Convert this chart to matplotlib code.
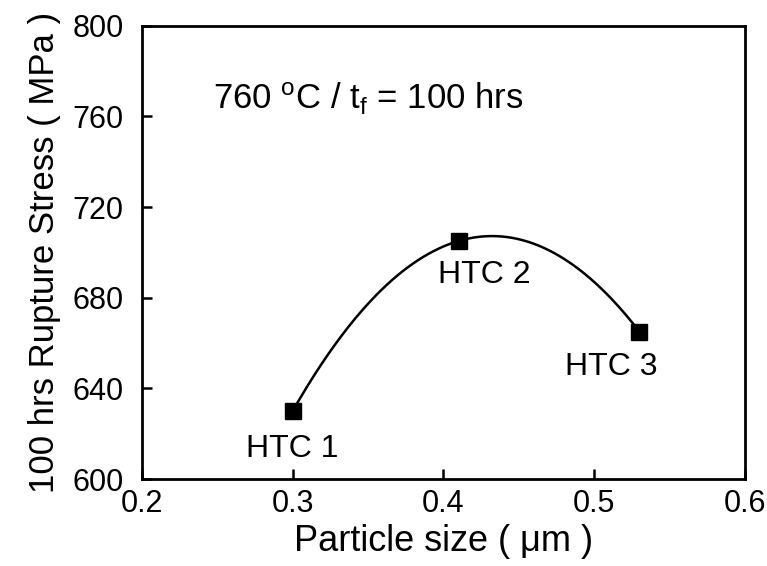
import numpy as np
import matplotlib
matplotlib.use("Agg")
import matplotlib.pyplot as plt

plt.rcParams['font.family'] = ['Liberation Sans', 'DejaVu Sans']
plt.rcParams['mathtext.fontset'] = 'custom'
plt.rcParams['mathtext.rm'] = 'Liberation Sans'
plt.rcParams['mathtext.it'] = 'Liberation Sans'

particle_size = [0.30, 0.41, 0.53]
rupture_stress = [630, 705, 665]
labels = ['HTC 1', 'HTC 2', 'HTC 3']
label_x = [0.30, 0.427, 0.511]
label_y = [609.5, 686.5, 646]
xticks = [0.2, 0.3, 0.4, 0.5, 0.6]
yticks = [600, 640, 680, 720, 760, 800]

fig = plt.figure(figsize=(7.67, 5.66), dpi=100)
ax = fig.add_axes([0.185, 0.1537, 0.9713 - 0.185, 0.9546 - 0.1537])

coef = np.polyfit(particle_size, rupture_stress, 2)
xs = np.linspace(particle_size[0], particle_size[-1], 200)
ax.plot(xs, np.polyval(coef, xs), color='black', lw=1.8, zorder=2)
ax.plot(particle_size, rupture_stress, 's', color='black', ms=12, zorder=3)

for t, x, y in zip(labels, label_x, label_y):
    ax.text(x, y, t, ha='center', va='baseline', fontsize=23)

ax.text(0.247, 763, r'760 $^{\mathrm{o}}$C / t$_{\mathrm{f}}$ = 100 hrs',
        ha='left', va='baseline', fontsize=25)

ax.set_xlim(0.2, 0.6)
ax.set_ylim(600, 800)
ax.set_xticks(xticks)
ax.set_xticklabels([f'{v:.1f}' for v in xticks])
ax.set_yticks(yticks)
ax.tick_params(direction='in', length=7, width=1.8, labelsize=22)
ax.tick_params(axis='x', pad=7)
ax.tick_params(axis='y', pad=13)
for s in ax.spines.values():
    s.set_linewidth(2)

ax.set_xlabel('Particle size ( μm )', fontsize=26, labelpad=4)
ax.set_ylabel('100 hrs Rupture Stress ( MPa )', fontsize=25, labelpad=8)

fig.savefig('out.png', dpi=100)
